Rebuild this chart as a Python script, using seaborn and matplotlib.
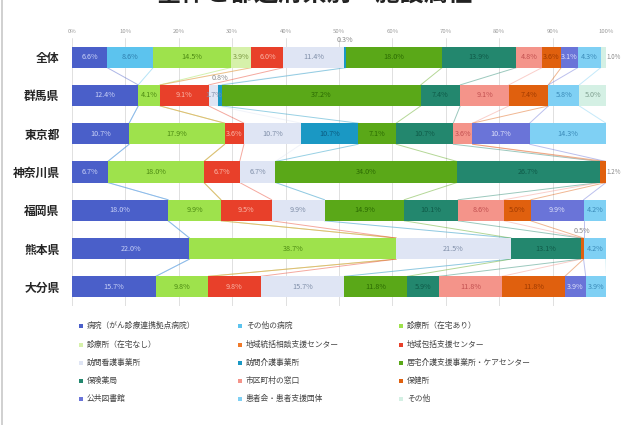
import numpy as np
import pandas as pd
import matplotlib
matplotlib.use("Agg")
import matplotlib.pyplot as plt
from matplotlib.patches import Rectangle
from matplotlib.lines import Line2D
import seaborn as sns

# ---- data -------------------------------------------------------------
regions = ["全体", "群馬県", "東京都", "神奈川県", "福岡県", "熊本県", "大分県"]

facility_types = [
    "病院（がん診療連携拠点病院）", "その他の病院", "診療所（在宅あり）",
    "診療所（在宅なし）", "地域統括相談支援センター", "地域包括支援センター",
    "訪問看護事業所", "訪問介護事業所", "居宅介護支援事業所・ケアセンター",
    "保険薬局", "市区町村の窓口", "保健所",
    "公共図書館", "患者会・患者支援団体", "その他",
]

# share (%) of each facility type, aligned with `regions`
hospital_core     = [6.6, 12.4, 10.7, 6.7, 18.0, 22.0, 15.7]
hospital_other    = [8.6, 0.0, 0.0, 0.0, 0.0, 0.0, 0.0]
clinic_home       = [14.5, 4.1, 17.9, 18.0, 9.9, 38.7, 9.8]
clinic_nohome     = [3.9, 0.0, 0.0, 0.0, 0.0, 0.0, 0.0]
regional_consult  = [0.0, 0.0, 0.0, 0.0, 0.0, 0.0, 0.0]
community_support = [6.0, 9.1, 3.6, 6.7, 9.5, 0.0, 9.8]
visit_nursing     = [11.4, 1.7, 10.7, 6.7, 9.9, 21.5, 15.7]
visit_care        = [0.3, 0.8, 10.7, 0.0, 0.0, 0.0, 0.0]
care_management   = [18.0, 37.2, 7.1, 34.0, 14.9, 0.0, 11.8]
pharmacy          = [13.9, 7.4, 10.7, 26.7, 10.1, 13.1, 5.9]
municipal_desk    = [4.8, 9.1, 3.6, 0.0, 8.6, 0.0, 11.8]
health_center     = [3.6, 7.4, 0.0, 1.2, 5.0, 0.5, 11.8]
public_library    = [3.1, 0.0, 10.7, 0.0, 9.9, 0.0, 3.9]
patient_groups    = [4.3, 5.8, 14.3, 0.0, 4.2, 4.2, 3.9]
other             = [1.0, 5.0, 0.0, 0.0, 0.0, 0.0, 0.0]

series = [hospital_core, hospital_other, clinic_home, clinic_nohome,
          regional_consult, community_support, visit_nursing, visit_care,
          care_management, pharmacy, municipal_desk, health_center,
          public_library, patient_groups, other]

tick_values = [0, 10, 20, 30, 40, 50, 60, 70, 80, 90, 100]
tick_labels = [f"{v}%" for v in tick_values]

# ---- styling ----------------------------------------------------------
colors = ["#4a5fc9", "#5cc3ee", "#9ee24c", "#d6f1aa", "#f07a2a",
          "#e8402a", "#dfe5f4", "#1a98c4", "#5aa818", "#23876e",
          "#f4948a", "#e0600e", "#6a74d8", "#7fd0f4", "#d4f0e4"]
label_colors = ["#c9d1f7", "#2f7fae", "#4c8a12", "#7c9a42", "#ffffff",
                "#f9b6a8", "#7f8ea8", "#0b5a80", "#2b6a02", "#0f5a48",
                "#c25050", "#a03a00", "#dde0fa", "#3a8ab8", "#7fa090"]

sns.set_theme(style="white")
plt.rcParams["font.family"] = ["Noto Sans CJK JP", "DejaVu Sans"]

df = pd.DataFrame(np.array(series).T, columns=facility_types)
df.insert(0, "region", regions)
cum = df[facility_types].cumsum(axis=1)

fig = plt.figure(figsize=(6.23, 4.25), dpi=100)
ax = fig.add_axes([72 / 623, 1 - 306 / 425, 534 / 623, 268 / 425])

bar_h = 0.55
# stacked bars: draw cumulative totals from the last type to the first
for i in range(len(facility_types) - 1, -1, -1):
    sns.barplot(x=cum[facility_types[i]].values, y=df["region"], order=regions,
                orient="h", color=colors[i], saturation=1, width=bar_h,
                linewidth=0, ax=ax, zorder=2)

# series lines between neighbouring bars
for i in range(len(facility_types)):
    c = cum[facility_types[i]].values
    for r in range(len(regions) - 1):
        ax.add_line(Line2D([c[r], c[r + 1]], [r + bar_h / 2, r + 1 - bar_h / 2],
                           color=colors[i], alpha=0.45, lw=0.7, zorder=1))

# value labels
for r in range(len(regions)):
    vals = df.loc[r, facility_types].values.astype(float)
    ends = cum.loc[r].values
    nz = np.nonzero(vals)[0]
    last = nz[-1]
    for i in nz:
        v = vals[i]
        center = ends[i] - v / 2
        txt = f"{v:.1f}%"
        if i == last and v < 2:
            ax.text(ends[i] + 0.15, r, txt, ha="left", va="center",
                    fontsize=4.5, color="#8a8a8a", zorder=4, clip_on=False)
        elif v < 1.0:
            ax.text(center, r - bar_h / 2 - 0.07, txt, ha="center", va="bottom",
                    fontsize=5.2, color="#8a8a8a", zorder=4)
        else:
            ax.text(center, r, txt, ha="center", va="center",
                    fontsize=5.2, color=label_colors[i], zorder=4)

ax.set_xlim(0, 100)
ax.set_ylim(len(regions) - 0.5, -0.5)
ax.xaxis.tick_top()
ax.set_xticks(tick_values)
ax.set_xticklabels(tick_labels, fontsize=4.3, color="#9a9a9a")
ax.tick_params(axis="x", length=0, pad=3)
ax.tick_params(axis="y", length=0, pad=9)
for lab in ax.get_yticklabels():
    lab.set_fontsize(8.5)
    lab.set_fontweight("bold")
    lab.set_color("#262626")
ax.set_xlabel("")
ax.set_ylabel("")
ax.grid(axis="x", color="#dadada", lw=0.6)
ax.grid(axis="y", visible=False)
ax.set_axisbelow(True)
for s in ax.spines.values():
    s.set_visible(False)

# title (top edge of the canvas)
fig.text(315 / 623, 1 + 5 / 425, "全体と都道府県別　施設属性", ha="center",
         va="center", fontsize=17.5, fontweight="bold", color="#222222")

# legend laid out row by row in three columns
col_x = [81, 240, 401]
row_y = [326, 345, 363, 381, 399]
for k, name in enumerate(facility_types):
    row, col = divmod(k, 3)
    x0 = col_x[col] / 623
    y0 = 1 - row_y[row] / 425
    fig.patches.append(Rectangle((x0 - 2.2 / 623, y0 - 2.2 / 425), 4.4 / 623, 4.4 / 425,
                                 transform=fig.transFigure, facecolor=colors[k],
                                 edgecolor="none"))
    fig.text(x0 + 6 / 623, y0, name, ha="left", va="center",
             fontsize=5.6, color="#444444")

# thin frame line on the left edge
fig.add_artist(Line2D([2 / 623, 2 / 623], [0, 1], transform=fig.transFigure,
                      color="#c8c8c8", lw=1.2))

fig.savefig("out.png", dpi=100)
